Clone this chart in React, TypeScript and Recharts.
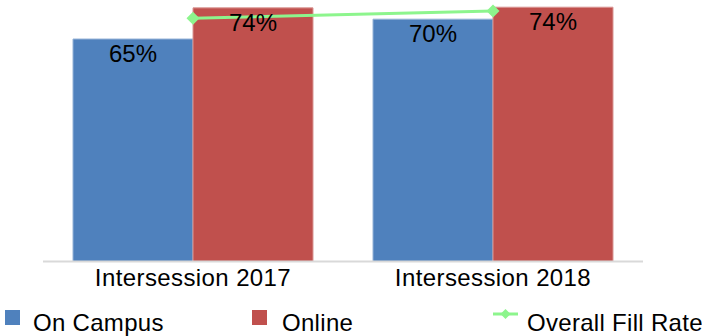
import { Bar, ComposedChart, LabelList, Legend, Line, XAxis, YAxis } from "recharts";

const categories = ["Intersession 2017", "Intersession 2018"];
const onCampus = [65.0, 70.8];
const online = [74.1, 74.3];
const overallFillRate = [71.1, 73.2];

const rows = categories.map((name, i) => ({
  name,
  onCampus: onCampus[i],
  online: online[i],
  overall: overallFillRate[i],
}));

const BLUE = "#4F81BD";
const RED = "#C0504D";
const GREEN = "#8DF58D";
const FONT = "'Liberation Sans', Arial, sans-serif";

const pct = (v: unknown) => `${Math.floor(Number(v))}%`;

function Diamond(props: { cx?: number; cy?: number }) {
  const { cx, cy } = props;
  if (cx == null || cy == null) return null;
  const r = 6.5;
  return (
    <path
      d={`M${cx},${cy - r} L${cx + r},${cy} L${cx},${cy + r} L${cx - r},${cy} Z`}
      fill={GREEN}
      stroke="none"
    />
  );
}

// legend laid out like the Excel original: three fixed slots across the bottom
function FillLegend() {
  const text = {
    position: "absolute" as const,
    top: 5,
    fontSize: 24,
    lineHeight: "24px",
    color: "#000",
    whiteSpace: "nowrap" as const,
    letterSpacing: 0.3,
  };
  return (
    <div style={{ position: "relative", width: 702, height: 30, fontFamily: FONT }}>
      <div style={{ position: "absolute", left: 5, top: 4, width: 15, height: 15, background: BLUE }} />
      <span style={{ ...text, left: 33 }}>On Campus</span>
      <div style={{ position: "absolute", left: 252, top: 4, width: 15, height: 15, background: RED }} />
      <span style={{ ...text, left: 282 }}>Online</span>
      <svg style={{ position: "absolute", left: 493, top: 2 }} width={26} height={14}>
        <line x1={0} y1={6} x2={25} y2={6} stroke={GREEN} strokeWidth={3} />
        <path d="M12.5,1 L17.5,6 L12.5,11 L7.5,6 Z" fill={GREEN} />
      </svg>
      <span style={{ ...text, left: 527 }}>Overall Fill Rate</span>
    </div>
  );
}

export default function App() {
  return (
    <div style={{ position: "absolute", left: 0, top: 0, background: "#fff" }}>
      <ComposedChart
        width={702}
        height={336}
        data={rows}
        margin={{ top: 0, right: 59, bottom: 0, left: 43 }}
        barCategoryGap="10%"
        barGap={0}
      >
        <XAxis
          dataKey="name"
          height={44.5}
          tickLine={false}
          tickSize={6}
          tickMargin={1}
          axisLine={{ stroke: "#d9d9d9", strokeWidth: 2 }}
          tick={{ fill: "#000", fontSize: 24, fontFamily: FONT, letterSpacing: 0.4 }}
          interval={0}
        />
        <YAxis hide domain={[0, 76.4]} />
        <Legend
          verticalAlign="bottom"
          height={30}
          wrapperStyle={{ left: 0, width: 702 }}
          content={() => <FillLegend />}
        />
        <Bar dataKey="onCampus" fill={BLUE} stroke="#95B3D7" strokeWidth={1} isAnimationActive={false}>
          <LabelList
            dataKey="onCampus"
            position="insideTop"
            offset={6}
            formatter={pct}
            style={{ fill: "#000", fontSize: 24, fontFamily: FONT }}
          />
        </Bar>
        <Bar dataKey="online" fill={RED} stroke="#D99694" strokeWidth={1} isAnimationActive={false}>
          <LabelList
            dataKey="online"
            position="insideTop"
            offset={6}
            formatter={pct}
            style={{ fill: "#000", fontSize: 24, fontFamily: FONT }}
          />
        </Bar>
        <Line
          dataKey="overall"
          stroke={GREEN}
          strokeWidth={3}
          dot={<Diamond />}
          activeDot={false}
          isAnimationActive={false}
        />
      </ComposedChart>
    </div>
  );
}
